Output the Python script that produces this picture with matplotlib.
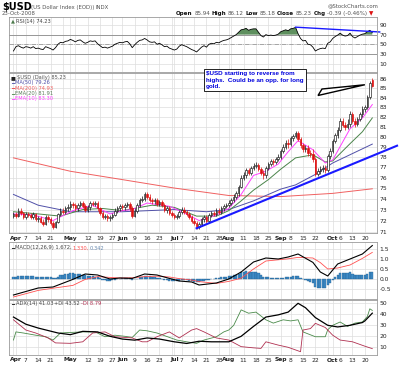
import numpy as np
import pandas as pd
import matplotlib
matplotlib.use('Agg')
import matplotlib.pyplot as plt
from matplotlib.patches import Polygon

# ---------------- data ----------------
holidays = ['2008-05-26', '2008-07-04', '2008-09-01']
dates = pd.bdate_range('2008-03-31', '2008-10-23').drop(pd.to_datetime(holidays))

opens = [72.4, 72.6, 72.4, 72.9, 72.7,  72.3, 72.6, 72.5, 72.3, 72.6,  72.1, 72.2, 71.9, 71.7, 72.3,
         72.1, 71.8, 71.4, 71.9, 72.6,  72.9, 72.8, 73.1, 73.2, 73.5,  73.4, 73.1, 73.4, 73.6, 73.3,
         73.0, 73.2, 73.6, 73.5, 73.6,  73.1, 72.7, 72.3, 72.4, 72.2,  72.3, 72.5, 72.9, 73.1,
         73.3, 73.2, 73.4, 73.5, 73.1,  72.4, 72.9, 73.4, 73.9, 74.0,  74.4, 74.2, 73.9, 73.8, 73.9,
         73.5, 73.7, 73.4, 73.0, 73.1,  72.7, 72.5, 72.3, 72.4,  72.8, 73.0, 72.8, 72.6, 72.3,
         72.0, 71.8, 71.4, 71.7, 72.1,  72.3, 72.0, 72.5, 72.7, 72.6,  72.9, 72.8, 73.1, 73.3, 73.4,
         73.6, 73.9, 74.2, 74.5, 75.1,  76.0, 76.2, 76.7, 76.4, 76.9,  77.1, 77.2, 76.8, 76.4, 76.2,
         76.9, 77.3, 77.6, 77.5, 77.8,  78.0, 78.6, 79.0, 79.4,  79.3, 79.9, 80.1, 80.4, 79.8,
         79.2, 78.8, 78.9, 78.4, 78.3,  77.8, 76.3, 76.6, 76.8, 76.9,  76.7, 78.1, 78.6, 79.6, 80.2,
         80.7, 81.6, 81.2, 81.0, 81.3,  82.3, 81.6, 81.3, 81.8, 82.3,  82.8, 83.0, 84.1, 85.94]
highs = [72.8, 72.8, 73.1, 73.1, 72.8,  72.8, 72.8, 72.7, 72.8, 72.7,  72.4, 72.4, 72.1, 72.5, 72.5,
         72.3, 72.0, 72.0, 72.7, 73.1,  73.1, 73.3, 73.5, 73.8, 73.7,  73.6, 73.6, 73.8, 73.8, 73.5,
         73.4, 73.8, 73.8, 73.8, 73.8,  73.2, 72.9, 72.6, 72.6, 72.5,  72.7, 73.1, 73.3, 73.5,
         73.5, 73.6, 73.7, 73.7, 73.3,  73.1, 73.6, 74.1, 74.3, 74.6,  74.6, 74.4, 74.1, 74.1, 74.1,
         73.9, 73.9, 73.6, 73.3, 73.3,  72.9, 72.7, 72.6, 73.0,  73.2, 73.2, 73.0, 72.8, 72.5,
         72.2, 72.0, 71.9, 72.3, 72.5,  72.5, 72.7, 72.9, 72.9, 73.1,  73.1, 73.3, 73.5, 73.6, 73.9,
         74.1, 74.4, 74.7, 75.3, 76.2,  76.5, 76.9, 76.9, 77.1, 77.4,  77.5, 77.4, 77.0, 76.7, 77.1,
         77.5, 77.8, 77.8, 78.0, 78.3,  78.8, 79.3, 79.7, 79.8,  80.1, 80.3, 80.6, 80.6, 80.0,
         79.4, 79.2, 79.2, 78.7, 78.8,  78.0, 76.9, 77.1, 77.2, 77.2,  78.3, 78.9, 79.8, 80.4, 81.0,
         81.9, 81.9, 81.5, 81.8, 82.6,  82.5, 81.9, 82.0, 82.5, 83.1,  83.3, 84.3, 85.8, 86.12]
lows = [72.2, 72.2, 72.3, 72.5, 72.1,  72.1, 72.3, 72.1, 72.1, 72.0,  71.9, 71.8, 71.5, 71.6, 71.9,
        71.6, 71.2, 71.3, 71.8, 72.4,  72.6, 72.6, 72.9, 73.0, 73.1,  72.9, 72.9, 73.2, 73.1, 72.8,
        72.8, 73.0, 73.3, 73.3, 72.9,  72.5, 72.1, 72.1, 72.0, 72.0,  72.1, 72.4, 72.7, 72.9,
        73.0, 73.0, 73.2, 72.9, 72.2,  72.3, 72.7, 73.2, 73.7, 73.8,  74.0, 73.7, 73.5, 73.5, 73.3,
        73.3, 73.2, 72.8, 72.7, 72.5,  72.3, 72.1, 72.1, 72.2,  72.6, 72.6, 72.4, 72.1, 71.8,
        71.6, 71.2, 71.2, 71.5, 71.9,  71.8, 71.9, 72.3, 72.4, 72.4,  72.6, 72.6, 72.9, 73.1, 73.2,
        73.4, 73.7, 74.0, 74.3, 75.0,  75.8, 76.0, 76.2, 76.2, 76.7,  76.9, 76.6, 76.2, 75.9, 76.0,
        76.7, 77.1, 77.2, 77.3, 77.6,  77.8, 78.4, 78.8, 78.9,  79.1, 79.6, 79.9, 79.6, 78.9,
        78.5, 78.5, 78.1, 78.0, 77.5,  76.1, 76.1, 76.3, 76.5, 76.4,  76.5, 77.8, 78.4, 79.4, 79.9,
        80.5, 81.0, 80.7, 80.8, 81.0,  81.4, 81.0, 81.1, 81.6, 82.0,  82.5, 82.8, 83.9, 85.18]
closes = [72.6, 72.4, 72.9, 72.7, 72.3,  72.6, 72.5, 72.3, 72.6, 72.1,  72.2, 71.9, 71.7, 72.3, 72.1,
          71.8, 71.4, 71.9, 72.6, 72.9,  72.8, 73.1, 73.2, 73.5, 73.4,  73.1, 73.4, 73.6, 73.3, 73.0,
          73.2, 73.6, 73.5, 73.6, 73.1,  72.7, 72.3, 72.4, 72.2, 72.3,  72.5, 72.9, 73.1, 73.3,
          73.2, 73.4, 73.5, 73.1, 72.4,  72.9, 73.4, 73.9, 74.0, 74.4,  74.2, 73.9, 73.8, 73.9, 73.5,
          73.7, 73.4, 73.0, 73.1, 72.7,  72.5, 72.3, 72.4, 72.8,  73.0, 72.8, 72.6, 72.3, 72.0,
          71.8, 71.4, 71.7, 72.1, 72.3,  72.0, 72.5, 72.7, 72.6, 72.9,  72.8, 73.1, 73.3, 73.4, 73.6,
          73.9, 74.2, 74.5, 75.1, 76.0,  76.2, 76.7, 76.4, 76.9, 77.1,  77.2, 76.8, 76.4, 76.2, 76.9,
          77.3, 77.6, 77.5, 77.8, 78.0,  78.6, 79.0, 79.4, 79.3,  79.9, 80.1, 80.4, 79.8, 79.2,
          78.8, 78.9, 78.4, 78.3, 77.8,  76.3, 76.6, 76.8, 76.9, 76.7,  78.1, 78.6, 79.6, 80.2, 80.7,
          81.6, 81.2, 81.0, 81.3, 82.3,  81.6, 81.3, 81.8, 82.3, 82.8,  83.0, 84.1, 85.62, 85.23]

ma50_dates = ['2008-03-31', '2008-04-14', '2008-05-01', '2008-06-02', '2008-07-01', '2008-07-21', '2008-08-01',
              '2008-08-15', '2008-09-02', '2008-09-10', '2008-09-22', '2008-10-01', '2008-10-23']
ma50_vals = [74.4, 73.4, 72.8, 72.8, 73.0, 72.8, 73.0, 73.8, 74.9, 75.3, 76.3, 77.4, 79.26]
ma200_dates = ['2008-03-31', '2008-05-01', '2008-06-02', '2008-07-01', '2008-08-01', '2008-09-02', '2008-10-01', '2008-10-23']
ma200_vals = [77.9, 76.6, 75.8, 75.0, 74.3, 74.2, 74.5, 74.93]
ema20_dates = ['2008-03-31', '2008-04-14', '2008-04-25', '2008-05-08', '2008-05-20', '2008-06-02', '2008-06-18',
               '2008-07-01', '2008-07-15', '2008-07-25', '2008-08-01', '2008-08-08', '2008-08-15', '2008-08-25',
               '2008-09-02', '2008-09-10', '2008-09-19', '2008-09-26', '2008-10-01', '2008-10-10', '2008-10-17', '2008-10-23']
ema20_vals = [72.8, 72.6, 72.4, 73.0, 73.1, 72.9, 73.4, 73.2, 72.4, 72.4, 72.9, 73.8, 74.8, 75.8,
              76.8, 77.9, 78.2, 77.5, 77.6, 79.3, 80.5, 81.91]
ema10_dates = ['2008-03-31', '2008-04-10', '2008-04-22', '2008-05-02', '2008-05-14', '2008-05-23', '2008-06-02',
               '2008-06-06', '2008-06-16', '2008-06-27', '2008-07-08', '2008-07-16', '2008-07-25', '2008-08-01',
               '2008-08-08', '2008-08-15', '2008-08-22', '2008-08-29', '2008-09-05', '2008-09-11', '2008-09-19',
               '2008-09-26', '2008-10-01', '2008-10-10', '2008-10-17', '2008-10-23']
ema10_vals = [72.6, 72.5, 72.0, 72.9, 73.4, 72.6, 72.9, 73.0, 73.6, 73.3, 72.7, 72.0, 72.5, 73.1,
              74.4, 76.2, 76.6, 77.3, 78.5, 79.6, 78.7, 77.4, 77.7, 80.8, 81.9, 83.3]

rsi = [36, 45, 47, 44, 42,  45, 44, 42, 45, 41,  42, 40, 39, 45, 43,  41, 38, 43, 50, 54,
       53, 56, 57, 60, 58,  55, 58, 59, 55, 52,  54, 57, 56, 57, 51,  47, 43, 44, 42, 44,
       46, 50, 52, 54,  53, 55, 56, 51, 43,  49, 54, 58, 59, 62,  59, 55, 54, 55, 50,
       52, 49, 45, 46, 42,  40, 38, 40, 46,  49, 47, 45, 42, 39,  37, 34, 39, 44, 47,
       44, 50, 52, 51, 54,  53, 56, 58, 59, 61,  64, 67, 70, 75, 80,  81, 83, 79, 81, 82,
       82, 75, 68, 65, 70,  68, 69, 68, 69, 71,  76, 78, 80, 78,  82, 83, 85, 72, 62,
       57, 58, 50, 49, 44,  36, 39, 41, 42, 41,  52, 55, 62, 66, 69,  73, 69, 67, 68, 73,
       66, 63, 66, 69, 71,  72, 76, 79, 74.23]

macd_dates = ['2008-03-31', '2008-04-14', '2008-04-22', '2008-05-02', '2008-05-09', '2008-05-16', '2008-05-23',
              '2008-05-30', '2008-06-06', '2008-06-13', '2008-06-20', '2008-06-27', '2008-07-03', '2008-07-11',
              '2008-07-16', '2008-07-25', '2008-08-01', '2008-08-08', '2008-08-15', '2008-08-22', '2008-08-29',
              '2008-09-05', '2008-09-11', '2008-09-19', '2008-09-24', '2008-09-29', '2008-10-03', '2008-10-10',
              '2008-10-17', '2008-10-23']
macd_vals = [-0.80, -0.45, -0.40, -0.02, 0.25, 0.20, 0.00, 0.05, 0.03, 0.25, 0.20, 0.03, -0.10, -0.15,
             -0.30, -0.20, 0.00, 0.35, 0.85, 1.05, 1.00, 1.10, 1.25, 0.83, 0.35, 0.15, 0.75, 1.00, 1.25, 1.672]
signal_vals = [-0.90, -0.57, -0.46, -0.32, -0.02, 0.12, 0.08, 0.05, 0.06, 0.12, 0.14, 0.10, 0.02, -0.05,
               -0.13, -0.22, -0.12, 0.04, 0.50, 0.90, 0.96, 1.01, 1.08, 1.05, 0.82, 0.50, 0.55, 0.70, 1.03, 1.330]
macd_hist = [0.10, 0.12, 0.15, 0.15, 0.14,  0.15, 0.15, 0.13, 0.14, 0.12,  0.12, 0.10, 0.08, 0.10, 0.10,
             0.08, 0.05, 0.06, 0.12, 0.18,  0.22, 0.25, 0.27, 0.30, 0.30,  0.27, 0.26, 0.26, 0.22, 0.18,
             0.16, 0.16, 0.14, 0.12, 0.08,  0.03, -0.03, -0.05, -0.08, -0.08,  -0.07, -0.04, -0.01, 0.02,
             0.03, 0.05, 0.06, 0.04, -0.03,  -0.02, 0.02, 0.08, 0.12, 0.16,  0.16, 0.14, 0.12, 0.10, 0.06,
             0.04, 0.01, -0.03, -0.05, -0.08,  -0.10, -0.12, -0.12, -0.10,  -0.07, -0.06, -0.07, -0.09, -0.12,
             -0.14, -0.17, -0.16, -0.12, -0.08,  -0.07, -0.03, 0.00, 0.02, 0.05,  0.06, 0.08, 0.10, 0.11, 0.13,
             0.15, 0.18, 0.22, 0.27, 0.33,  0.36, 0.38, 0.37, 0.36, 0.35,  0.33, 0.28, 0.20, 0.12, 0.10,
             0.08, 0.07, 0.05, 0.04, 0.04,  0.05, 0.07, 0.09, 0.09,  0.12, 0.14, 0.17, 0.13, 0.07,
             0.01, -0.04, -0.10, -0.16, -0.22,  -0.38, -0.45, -0.47, -0.46, -0.44,  -0.30, -0.20, -0.05, 0.08, 0.20,
             0.30, 0.32, 0.32, 0.30, 0.33,  0.27, 0.22, 0.20, 0.20, 0.22,  0.22, 0.26, 0.33, 0.342]

adx_dates = ['2008-03-31', '2008-04-07', '2008-04-14', '2008-04-24', '2008-05-01', '2008-05-08', '2008-05-16',
             '2008-05-23', '2008-06-02', '2008-06-09', '2008-06-16', '2008-06-23', '2008-07-01', '2008-07-09',
             '2008-07-16', '2008-07-23', '2008-08-01', '2008-08-08', '2008-08-15', '2008-08-22', '2008-08-29',
             '2008-09-05', '2008-09-11', '2008-09-16', '2008-09-22', '2008-09-29', '2008-10-03', '2008-10-10',
             '2008-10-17', '2008-10-20', '2008-10-23']
adx_vals = [37.5, 31, 27.5, 23, 21.5, 24.5, 24, 20, 17.5, 16.5, 18.5, 17.5, 15, 13.5, 15.5, 15, 15, 20, 29,
            37.5, 39.5, 42, 50, 46, 37, 30, 28.5, 30, 32.5, 34, 41.03]
pdi_dates = ['2008-03-31', '2008-04-01', '2008-04-04', '2008-04-11', '2008-04-17', '2008-04-22', '2008-04-25',
             '2008-05-01', '2008-05-08', '2008-05-15', '2008-05-21', '2008-05-28', '2008-06-03', '2008-06-06',
             '2008-06-11', '2008-06-16', '2008-06-20', '2008-06-27', '2008-07-02', '2008-07-09', '2008-07-15',
             '2008-07-18', '2008-07-25', '2008-07-30', '2008-08-01', '2008-08-05', '2008-08-08', '2008-08-13',
             '2008-08-18', '2008-08-22', '2008-08-27', '2008-09-03', '2008-09-08', '2008-09-11', '2008-09-15',
             '2008-09-22', '2008-09-26', '2008-09-29', '2008-10-01', '2008-10-06', '2008-10-09', '2008-10-14',
             '2008-10-17', '2008-10-21', '2008-10-22', '2008-10-23']
pdi_vals = [16.6, 24, 23, 21, 19.6, 16.6, 23, 23.5, 24, 24, 19.6, 21, 20, 19, 25.7, 25, 23, 19, 16.6, 15,
            13.6, 16.6, 19.6, 24, 25.7, 30, 44, 41, 42, 35, 32, 35, 34, 35, 24, 19.6, 19.6, 26, 30, 33,
            29, 32, 33, 38, 45, 43.52]
mdi_dates = ['2008-03-31', '2008-04-07', '2008-04-11', '2008-04-18', '2008-04-23', '2008-05-01', '2008-05-08',
             '2008-05-14', '2008-05-21', '2008-05-28', '2008-06-06', '2008-06-12', '2008-06-16', '2008-06-20',
             '2008-06-27', '2008-07-03', '2008-07-11', '2008-07-15', '2008-07-18', '2008-07-25', '2008-08-01',
             '2008-08-08', '2008-08-15', '2008-08-20', '2008-08-22', '2008-08-29', '2008-09-05', '2008-09-12',
             '2008-09-15', '2008-09-18', '2008-09-22', '2008-09-26', '2008-10-01', '2008-10-06', '2008-10-13',
             '2008-10-20', '2008-10-23']
mdi_vals = [35, 25.7, 23, 18.5, 14, 13.6, 15, 23, 24, 19.6, 18.5, 15, 15, 19.6, 24, 18.5, 25.7, 27, 24,
            18.5, 16.6, 10.6, 9.5, 9, 15, 12, 10, 6, 25.7, 27, 31.8, 28, 21, 16.6, 15, 11, 8.79]

tick_dates = ['2008-04-01', '2008-04-07', '2008-04-14', '2008-04-21', '2008-05-01', '2008-05-12', '2008-05-19',
              '2008-05-27', '2008-06-02', '2008-06-09', '2008-06-16', '2008-06-23', '2008-07-01', '2008-07-07',
              '2008-07-14', '2008-07-21', '2008-07-28', '2008-08-01', '2008-08-11', '2008-08-18', '2008-08-25',
              '2008-09-02', '2008-09-08', '2008-09-15', '2008-09-22', '2008-10-01', '2008-10-06', '2008-10-13',
              '2008-10-20']
tick_labels = ['Apr', '7', '14', '21', 'May', '12', '19', '27', 'Jun', '9', '16', '23', 'Jul', '7', '14',
               '21', '28', 'Aug', '11', '18', '25', 'Sep', '8', '15', '22', 'Oct', '6', '13', '20']

# hand-drawn trend lines (chartist annotations)
price_trend = (['2008-07-15', 10], [71.3, 79.1])     # start date, bars past the end
rsi_trend = (['2008-09-10', 3], [85.5, 75.5])


def day(d):
    return dates.get_loc(pd.Timestamp(d))


def days(lst):
    return [day(d) for d in lst]


# ---------------- figure ----------------
W, H = 400, 365
fig = plt.figure(figsize=(W / 100, H / 100), dpi=100)
x = np.arange(len(dates))
tick_idx = days(tick_dates)
week_starts = [i for i in range(len(dates)) if i == 0 or dates[i].weekday() < dates[i - 1].weekday()]
FS = 4.3


def P(xp, yp):
    return xp / W, 1 - yp / H


def panel(top, bottom):
    ax = fig.add_axes([9 / W, 1 - bottom / H, 368 / W, (bottom - top) / H])
    ax.set_xlim(-1.8, len(dates) + 0.9)
    for s in ax.spines.values():
        s.set_color('#9a9a9a')
        s.set_linewidth(0.6)
    ax.yaxis.tick_right()
    ax.tick_params(length=0, labelsize=FS, colors='#222222', pad=2)
    ax.set_xticks(tick_idx)
    ax.set_xticklabels([])
    for i in set(week_starts) - set(tick_idx):
        ax.axvline(i, color='#dddddd', lw=0.5, zorder=0)
    ax.grid(True, color='#dddddd', lw=0.5)
    ax.set_axisbelow(True)
    return ax


def date_labels(ax):
    ax.set_xticklabels(tick_labels)
    ax.tick_params(axis='x', pad=1.8)
    for t in ax.get_xticklabels():
        if t.get_text().isalpha():
            t.set_fontweight('bold')


ax_rsi = panel(17, 72)
ax_px = panel(73, 233)
ax_macd = panel(242, 299)
ax_adx = panel(300, 355)

# ---- RSI ----
r = np.array(rsi)
ax_rsi.set_ylim(-7.6, 106.6)
ax_rsi.set_yticks([90, 70, 50, 30, 10])
ax_rsi.axhline(70, color='#8a8a8a', lw=0.6)
ax_rsi.axhline(30, color='#8a8a8a', lw=0.6)
ax_rsi.axhline(50, color='#8a8a8a', lw=0.5, ls='-.')
ax_rsi.fill_between(x, r, 70, where=r >= 70, interpolate=True, color='#5e8f5e', lw=0)
ax_rsi.plot(x, r, color='black', lw=0.6)
ax_rsi.plot([day(rsi_trend[0][0]), len(dates) - 1 + rsi_trend[0][1]], rsi_trend[1],
            color='#1a1aff', lw=1.0, clip_on=False)

# ---- price ----
ax_px.set_yscale('log')
ax_px.set_ylim(70.88, 86.67)
ticks = list(range(71, 87))
ax_px.set_yticks(ticks)
ax_px.set_yticklabels([str(t) for t in ticks])
ax_px.minorticks_off()
ax_px.tick_params(axis='y', which='both', length=0)
ax_px.plot(days(ma200_dates), ma200_vals, color='#f06060', lw=0.7)
ax_px.plot(days(ma50_dates), ma50_vals, color='#5050a8', lw=0.7)
ax_px.plot(days(ema20_dates), ema20_vals, color='#4a844a', lw=0.7)
ax_px.plot(days(ema10_dates), ema10_vals, color='#ff40ff', lw=0.7)

o, h, l, c = map(np.array, (opens, highs, lows, closes))
prev = np.r_[c[0], c[:-1]]
col = np.where(c < prev, '#dd1111', '#111111')
face = np.where(c < o, col, 'white')
ax_px.vlines(x, l, h, colors=col, lw=0.5, zorder=3)
ax_px.bar(x, np.maximum(np.abs(c - o), 0.04), bottom=np.minimum(o, c), width=0.62,
          color=face, edgecolor=col, lw=0.45, zorder=4)
ax_px.plot([day(price_trend[0][0]), len(dates) - 1 + price_trend[0][1]], price_trend[1],
           color='#1a1aff', lw=1.5, clip_on=False, zorder=5)
date_labels(ax_px)

# ---- MACD ----
ax_macd.set_ylim(-1.0, 1.85)
ax_macd.set_yticks([1.5, 1.0, 0.5, 0.0, -0.5])
ax_macd.set_yticklabels(['1.5', '1.0', '0.5', '0.0', '-0.5'])
ax_macd.bar(x, macd_hist, width=0.85, color='#3f8cc8', edgecolor='#1d5a8a', lw=0.25)
ax_macd.plot(days(macd_dates), signal_vals, color='#ff5050', lw=0.6)
ax_macd.plot(days(macd_dates), macd_vals, color='black', lw=0.8)

# ---- ADX ----
ax_adx.set_ylim(3, 53)
ax_adx.set_yticks([50, 40, 30, 20, 10])
ax_adx.plot(days(pdi_dates), pdi_vals, color='#4a8a4a', lw=0.6)
ax_adx.plot(days(mdi_dates), mdi_vals, color='#b03050', lw=0.6)
ax_adx.plot(days(adx_dates), adx_vals, color='black', lw=0.9)
date_labels(ax_adx)

# ---------------- texts ----------------
rend = fig.canvas.get_renderer()


def run(xp, yp, parts, size=FS, gap=1.2):
    for s, color, weight in parts:
        t = fig.text(*P(xp, yp), s, fontsize=size, color=color, fontweight=weight, va='center', ha='left')
        xp += t.get_window_extent(rend).width + gap


fig.text(*P(2, 7), '$USD', fontsize=7, fontweight='bold', va='center')
run(31, 7.5, [('(US Dollar Index (EOD))', '#555555', 'normal'), ('INDX', '#555555', 'normal')], size=3.9)
fig.text(*P(378, 6), '@StockCharts.com', fontsize=3.9, color='#555555', ha='right', va='center')
fig.text(*P(2, 13.5), '23-Oct-2008', fontsize=3.9, color='#555555', va='center')
run(176, 13.5, [('Open', '#111111', 'bold'), ('85.94', '#555555', 'normal'),
                ('High', '#111111', 'bold'), ('86.12', '#555555', 'normal'),
                ('Low', '#111111', 'bold'), ('85.18', '#555555', 'normal'),
                ('Close', '#111111', 'bold'), ('85.23', '#555555', 'normal'),
                ('Chg', '#111111', 'bold'), ('-0.39 (-0.46%)', '#555555', 'normal'),
                ('\u25bc', '#dd1111', 'normal')], size=4.1, gap=1.6)

run(11, 21, [('\u25b2', '#4a7a4a', 'normal'), ('RSI(14) 74.23', '#444444', 'normal')], size=3.7, gap=0.8)
legend_rows = [('\u25a0', '#222222', '$USD (Daily) 85.23', '#555555'),
               ('\u2501', '#5050a8', 'MA(50) 79.26', '#5050a8'),
               ('\u2501', '#f04040', 'MA(200) 74.93', '#f06060'),
               ('\u2501', '#4a844a', 'EMA(20) 81.91', '#5a7a5a'),
               ('\u2501', '#ff40ff', 'EMA(10) 83.30', '#ff40ff')]
for k, (sym, sc, label, lc) in enumerate(legend_rows):
    run(11, 77.5 + 5.3 * k, [(sym, sc, 'normal'), (label, lc, 'normal')], size=3.7, gap=0.8)
run(11, 248, [('\u2501', '#111111', 'normal'), ('MACD(12,26,9) 1.672,', '#444444', 'normal'),
              ('1.330,', '#ff5050', 'normal'), ('0.342', '#6a8ab0', 'normal')], size=3.7, gap=1.0)
run(11, 303.5, [('\u2501', '#111111', 'normal'), ('ADX(14) 41.03', '#444444', 'normal'),
                ('+DI 43.52', '#444444', 'normal'), ('-DI 8.79', '#b03050', 'normal')], size=3.7, gap=1.4)

# annotation box with callout
note = fig.text(*P(206, 71.5), '$USD starting to reverse from\nhighs.  Could be an opp. for long\ngold.',
                fontsize=4.5, fontweight='bold', color='#0000dd', family='Liberation Sans',
                ha='left', va='top', linespacing=1.3,
                bbox=dict(boxstyle='square,pad=0.35', fc='white', ec='black', lw=0.6))
tip = ax_px.transData.transform((day('2008-10-20'), 85.4))
inv = fig.transFigure.inverted()
wedge = Polygon([P(318, 95.5), inv.transform(tip), P(322, 89)], closed=True,
                transform=fig.transFigure, fc='white', ec='black', lw=1.0, zorder=6)
fig.add_artist(wedge)

fig.savefig('out.png', dpi=100, facecolor='white')
